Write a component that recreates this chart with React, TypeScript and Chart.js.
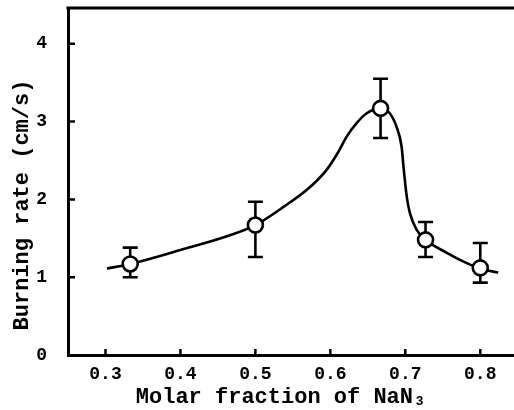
import React, { useEffect, useRef } from "react";
import { Chart, registerables } from "chart.js";

Chart.register(...registerables);

// Measured points (molar fraction of NaN3 vs burning rate, cm/s)
const molarFraction = [0.333, 0.5, 0.667, 0.727, 0.8];
const burningRate = [1.17, 1.67, 3.17, 1.48, 1.12];
const errLow = [1.0, 1.26, 2.79, 1.26, 0.93];
const errHigh = [1.38, 1.97, 3.55, 1.71, 1.44];

// Hand-drawn smooth trend curve
const curveX = [0.302, 0.333, 0.4, 0.466, 0.5, 0.537, 0.573, 0.595, 0.61, 0.622, 0.635, 0.649, 0.667, 0.679, 0.688, 0.695, 0.698, 0.702, 0.706, 0.715, 0.727, 0.756, 0.782, 0.8, 0.824];
const curveY = [1.11, 1.17, 1.35, 1.54, 1.67, 1.9, 2.16, 2.38, 2.6, 2.81, 2.98, 3.11, 3.17, 3.11, 2.94, 2.68, 2.38, 2.03, 1.83, 1.61, 1.48, 1.31, 1.18, 1.11, 1.06];

const xTicks = [0.3, 0.4, 0.5, 0.6, 0.7, 0.8];
const yTicks = [0, 1, 2, 3, 4];

const xTitle = "Molar fraction of NaN\u2083";
const yTitle = "Burning rate (cm/s)";

const FAMILY = '"Liberation Mono", "DejaVu Sans Mono", monospace';

const decor = {
  id: "decor",
  afterDatasetDraw(chart: any, args: any) {
    if (args.index !== 1) return;
    const { ctx, scales } = chart;
    const x = scales.x, y = scales.y;
    ctx.save();
    ctx.strokeStyle = "#000";
    ctx.lineWidth = 2.6;
    ctx.lineCap = "butt";
    molarFraction.forEach((f, i) => {
      const px = x.getPixelForValue(f);
      const lo = y.getPixelForValue(errLow[i]);
      const hi = y.getPixelForValue(errHigh[i]);
      ctx.beginPath();
      ctx.moveTo(px, lo);
      ctx.lineTo(px, hi);
      ctx.moveTo(px - 7.5, lo);
      ctx.lineTo(px + 7.5, lo);
      ctx.moveTo(px - 7.5, hi);
      ctx.lineTo(px + 7.5, hi);
      ctx.stroke();
    });
    ctx.restore();
  },
  afterDraw(chart: any) {
    const { ctx, scales, chartArea } = chart;
    const x = scales.x, y = scales.y;
    ctx.save();
    ctx.strokeStyle = "#000";
    ctx.lineWidth = 2.5;
    // inward tick marks
    ctx.beginPath();
    yTicks.forEach((v) => {
      if (v === 0) return;
      const py = y.getPixelForValue(v);
      ctx.moveTo(chartArea.left, py);
      ctx.lineTo(chartArea.left + 7, py);
    });
    xTicks.forEach((v) => {
      const px = x.getPixelForValue(v);
      ctx.moveTo(px, chartArea.bottom);
      ctx.lineTo(px, chartArea.bottom - 6);
    });
    ctx.stroke();
    // top frame line
    ctx.lineWidth = 3;
    ctx.beginPath();
    ctx.moveTo(chartArea.left - 1.5, chartArea.top);
    ctx.lineTo(chart.width, chartArea.top);
    ctx.stroke();
    // axis titles
    ctx.fillStyle = "#000";
    ctx.font = `bold 22px ${FAMILY}`;
    ctx.textAlign = "center";
    ctx.textBaseline = "middle";
    ctx.fillText(xTitle, 281, 397);
    ctx.translate(22, 205);
    ctx.rotate(-Math.PI / 2);
    ctx.fillText(yTitle, 0, 0);
    ctx.restore();
  },
};

const zeroPad = (s: any) => {
  s.paddingTop = 0;
  s.paddingBottom = 0;
  s.paddingLeft = 0;
  s.paddingRight = 0;
};

export default function App() {
  const ref = useRef<HTMLCanvasElement>(null);
  useEffect(() => {
    document.body.style.margin = "0";
    const canvas = ref.current!;
    const tickFont = { family: FAMILY, size: 18, weight: "bold" as const };
    const chart = new Chart(canvas, {
      type: "scatter",
      data: {
        datasets: [
          {
            label: "Burning rate",
            data: molarFraction.map((f, i) => ({ x: f, y: burningRate[i] })),
            showLine: false,
            pointRadius: 7.5,
            pointBorderWidth: 2.6,
            pointBorderColor: "#000",
            pointBackgroundColor: "#fff",
          },
          {
            label: "Trend",
            data: curveX.map((f, i) => ({ x: f, y: curveY[i] })),
            showLine: true,
            cubicInterpolationMode: "monotone",
            borderColor: "#000",
            borderWidth: 2.6,
            pointRadius: 0,
            fill: false,
          },
        ],
      },
      options: {
        responsive: false,
        animation: false,
        layout: { autoPadding: false, padding: { top: 8, right: 0, left: 0, bottom: 0 } },
        plugins: { legend: { display: false }, tooltip: { enabled: false } },
        scales: {
          x: {
            type: "linear",
            min: 0.25,
            max: 0.845,
            afterFit: (s: any) => { s.height = 55; zeroPad(s); },
            afterBuildTicks: (s: any) => { s.ticks = xTicks.map((v) => ({ value: v })); },
            grid: { display: false, drawTicks: false },
            border: { display: true, width: 3, color: "#000" },
            ticks: {
              font: tickFont,
              color: "#000",
              padding: 9,
              maxRotation: 0,
              autoSkip: false,
              callback: (v: any) => Number(v).toFixed(1),
            },
          },
          y: {
            type: "linear",
            min: 0,
            max: 4.46,
            afterFit: (s: any) => { s.width = 68; zeroPad(s); },
            afterBuildTicks: (s: any) => { s.ticks = yTicks.map((v) => ({ value: v })); },
            grid: { display: false, drawTicks: false },
            border: { display: true, width: 3, color: "#000" },
            ticks: {
              font: tickFont,
              color: "#000",
              padding: 21,
              autoSkip: false,
              callback: (v: any) => String(v),
            },
          },
        },
      },
      plugins: [decor],
    });
    return () => chart.destroy();
  }, []);
  return (
    <div style={{ width: 514, height: 410, overflow: "hidden" }}>
      <canvas ref={ref} width={514} height={410} style={{ display: "block" }} />
    </div>
  );
}
